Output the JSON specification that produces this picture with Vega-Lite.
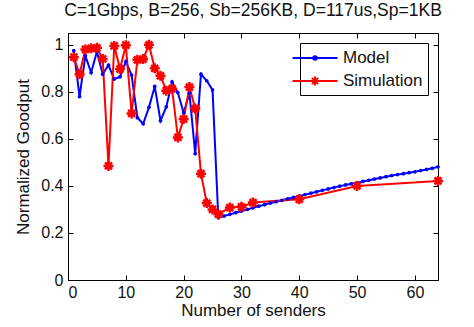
{
  "$schema": "https://vega.github.io/schema/vega-lite/v6.json",
  "width": 370,
  "height": 247,
  "autosize": {"type": "none"},
  "padding": {"left": 68, "top": 33, "right": 36, "bottom": 47},
  "background": "white",
  "title": {
    "text": "C=1Gbps, B=256, Sb=256KB, D=117us,Sp=1KB",
    "font": "Liberation Sans",
    "fontSize": 17.5,
    "fontWeight": "normal",
    "color": "#111",
    "baseline": "alphabetic",
    "frame": "group",
    "offset": -1,
    "anchor": "middle"
  },
  "config": {
    "view": {"stroke": "black", "strokeWidth": 1},
    "font": "Liberation Sans",
    "axis": {
      "grid": false,
      "domainColor": "black",
      "tickColor": "black",
      "labelColor": "#111",
      "titleColor": "#111",
      "labelFont": "Liberation Sans",
      "titleFont": "Liberation Sans",
      "labelFontSize": 16,
      "titleFontSize": 17,
      "titleFontWeight": "normal",
      "tickSize": -5
    }
  },
  "data": {
    "values": [
      {"n": 1, "series": "Model", "v": 0.975},
      {"n": 2, "series": "Model", "v": 0.78},
      {"n": 3, "series": "Model", "v": 0.953},
      {"n": 4, "series": "Model", "v": 0.882},
      {"n": 5, "series": "Model", "v": 0.97},
      {"n": 6, "series": "Model", "v": 0.875},
      {"n": 7, "series": "Model", "v": 0.913},
      {"n": 8, "series": "Model", "v": 0.854},
      {"n": 9, "series": "Model", "v": 0.864},
      {"n": 10, "series": "Model", "v": 0.928},
      {"n": 11, "series": "Model", "v": 0.871},
      {"n": 12, "series": "Model", "v": 0.69},
      {"n": 13, "series": "Model", "v": 0.664},
      {"n": 14, "series": "Model", "v": 0.734},
      {"n": 15, "series": "Model", "v": 0.823},
      {"n": 16, "series": "Model", "v": 0.677},
      {"n": 17, "series": "Model", "v": 0.736},
      {"n": 18, "series": "Model", "v": 0.842},
      {"n": 19, "series": "Model", "v": 0.797},
      {"n": 20, "series": "Model", "v": 0.71},
      {"n": 21, "series": "Model", "v": 0.795},
      {"n": 22, "series": "Model", "v": 0.537},
      {"n": 23, "series": "Model", "v": 0.875},
      {"n": 24, "series": "Model", "v": 0.847},
      {"n": 25, "series": "Model", "v": 0.808},
      {"n": 26, "series": "Model", "v": 0.265},
      {"n": 27, "series": "Model", "v": 0.272},
      {"n": 28, "series": "Model", "v": 0.279},
      {"n": 29, "series": "Model", "v": 0.286},
      {"n": 30, "series": "Model", "v": 0.293},
      {"n": 31, "series": "Model", "v": 0.3},
      {"n": 32, "series": "Model", "v": 0.307},
      {"n": 33, "series": "Model", "v": 0.314},
      {"n": 34, "series": "Model", "v": 0.32},
      {"n": 35, "series": "Model", "v": 0.327},
      {"n": 36, "series": "Model", "v": 0.333},
      {"n": 37, "series": "Model", "v": 0.339},
      {"n": 38, "series": "Model", "v": 0.345},
      {"n": 39, "series": "Model", "v": 0.351},
      {"n": 40, "series": "Model", "v": 0.357},
      {"n": 41, "series": "Model", "v": 0.363},
      {"n": 42, "series": "Model", "v": 0.369},
      {"n": 43, "series": "Model", "v": 0.375},
      {"n": 44, "series": "Model", "v": 0.381},
      {"n": 45, "series": "Model", "v": 0.387},
      {"n": 46, "series": "Model", "v": 0.393},
      {"n": 47, "series": "Model", "v": 0.399},
      {"n": 48, "series": "Model", "v": 0.404},
      {"n": 49, "series": "Model", "v": 0.409},
      {"n": 50, "series": "Model", "v": 0.414},
      {"n": 51, "series": "Model", "v": 0.419},
      {"n": 52, "series": "Model", "v": 0.424},
      {"n": 53, "series": "Model", "v": 0.429},
      {"n": 54, "series": "Model", "v": 0.434},
      {"n": 55, "series": "Model", "v": 0.439},
      {"n": 56, "series": "Model", "v": 0.444},
      {"n": 57, "series": "Model", "v": 0.448},
      {"n": 58, "series": "Model", "v": 0.452},
      {"n": 59, "series": "Model", "v": 0.456},
      {"n": 60, "series": "Model", "v": 0.46},
      {"n": 61, "series": "Model", "v": 0.465},
      {"n": 62, "series": "Model", "v": 0.47},
      {"n": 63, "series": "Model", "v": 0.475},
      {"n": 64, "series": "Model", "v": 0.481},
      {"n": 1, "series": "Simulation", "v": 0.947},
      {"n": 2, "series": "Simulation", "v": 0.875},
      {"n": 3, "series": "Simulation", "v": 0.98},
      {"n": 4, "series": "Simulation", "v": 0.985},
      {"n": 5, "series": "Simulation", "v": 0.987},
      {"n": 6, "series": "Simulation", "v": 0.94},
      {"n": 7, "series": "Simulation", "v": 0.485},
      {"n": 8, "series": "Simulation", "v": 0.995},
      {"n": 9, "series": "Simulation", "v": 0.897},
      {"n": 10, "series": "Simulation", "v": 0.998},
      {"n": 11, "series": "Simulation", "v": 0.708},
      {"n": 12, "series": "Simulation", "v": 0.936},
      {"n": 13, "series": "Simulation", "v": 0.939},
      {"n": 14, "series": "Simulation", "v": 1.0},
      {"n": 15, "series": "Simulation", "v": 0.9},
      {"n": 16, "series": "Simulation", "v": 0.868},
      {"n": 17, "series": "Simulation", "v": 0.805},
      {"n": 18, "series": "Simulation", "v": 0.813},
      {"n": 19, "series": "Simulation", "v": 0.606},
      {"n": 20, "series": "Simulation", "v": 0.684},
      {"n": 21, "series": "Simulation", "v": 0.82},
      {"n": 22, "series": "Simulation", "v": 0.729},
      {"n": 23, "series": "Simulation", "v": 0.452},
      {"n": 24, "series": "Simulation", "v": 0.327},
      {"n": 25, "series": "Simulation", "v": 0.3},
      {"n": 26, "series": "Simulation", "v": 0.28},
      {"n": 28, "series": "Simulation", "v": 0.308},
      {"n": 30, "series": "Simulation", "v": 0.311},
      {"n": 32, "series": "Simulation", "v": 0.329},
      {"n": 40, "series": "Simulation", "v": 0.343},
      {"n": 50, "series": "Simulation", "v": 0.4},
      {"n": 64, "series": "Simulation", "v": 0.421}
    ]
  },
  "layer": [
    {
      "mark": {"type": "line", "strokeWidth": 2},
      "encoding": {
        "x": {
          "field": "n", "type": "quantitative",
          "scale": {"domain": [0, 64], "nice": false, "zero": false},
          "axis": {"values": [0, 10, 20, 30, 40, 50, 60], "title": "Number of senders", "labelPadding": 9, "titleBaseline": "alphabetic", "titleY": 35}
        },
        "y": {
          "field": "v", "type": "quantitative",
          "scale": {"domain": [0, 1.05], "nice": false},
          "axis": {"values": [0, 0.2, 0.4, 0.6, 0.8, 1], "format": "~g", "title": "Normalized Goodput", "labelPadding": 10, "titleBaseline": "alphabetic", "titleX": -40}
        },
        "color": {
          "field": "series", "type": "nominal",
          "scale": {"domain": ["Model", "Simulation"], "range": ["#0000ff", "#ff0000"]},
          "legend": {
            "title": null,
            "orient": "top-right",
            "offset": 10,
            "strokeColor": "black",
            "fillColor": "white",
            "padding": 5,
            "labelFont": "Liberation Sans",
            "labelFontSize": 17,
            "labelColor": "#111",
            "symbolSize": 324,
            "symbolStrokeWidth": 2,
            "labelOffset": 18,
            "rowPadding": 5,
            "encode": {
              "symbols": {
                "update": {
                  "shape": {"signal": "datum.value === 'Model' ? 'M-2.5,0H2.5M-0.2,0A0.2,0.2 0 1 1 0.2,0A0.2,0.2 0 1 1 -0.2,0' : 'M-2.5,0H2.5M-0.5,0H0.5M0,-0.5V0.5M-0.35,-0.35L0.35,0.35M-0.35,0.35L0.35,-0.35'"}
                }
              }
            }
          }
        }
      }
    },
    {
      "transform": [{"filter": "datum.series === 'Model'"}],
      "mark": {"type": "point", "filled": true, "shape": "circle", "size": 14, "color": "#0000ff", "opacity": 1},
      "encoding": {
        "x": {"field": "n", "type": "quantitative", "axis": null},
        "y": {"field": "v", "type": "quantitative", "axis": null}
      }
    },
    {
      "transform": [{"filter": "datum.series === 'Simulation'"}],
      "mark": {"type": "point", "filled": false, "shape": "M-1,0H1M0,-1V1M-0.7,-0.7L0.7,0.7M-0.7,0.7L0.7,-0.7", "size": 100, "stroke": "#ff0000", "strokeWidth": 2.5, "opacity": 1},
      "encoding": {
        "x": {"field": "n", "type": "quantitative", "axis": null},
        "y": {"field": "v", "type": "quantitative", "axis": null}
      }
    },
    {
      "mark": {"type": "point", "opacity": 0},
      "encoding": {
        "x": {"field": "n", "type": "quantitative", "axis": {"orient": "top", "values": [0, 10, 20, 30, 40, 50, 60], "labels": false, "title": null, "domain": false}},
        "y": {"field": "v", "type": "quantitative", "axis": {"orient": "right", "values": [0, 0.2, 0.4, 0.6, 0.8, 1], "labels": false, "title": null, "domain": false}}
      }
    }
  ],
  "resolve": {"axis": {"x": "independent", "y": "independent"}}
}
